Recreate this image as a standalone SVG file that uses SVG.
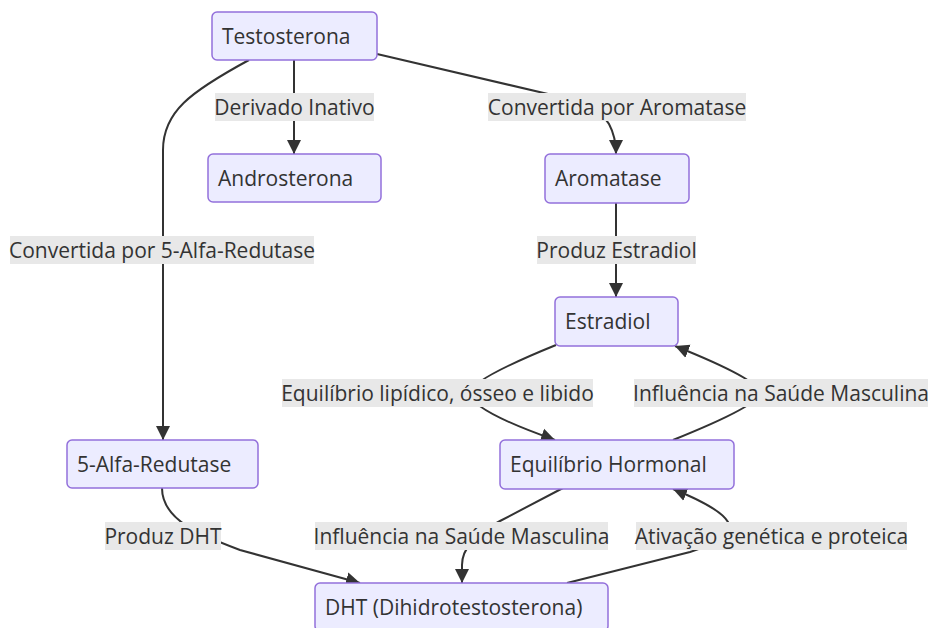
<svg xmlns="http://www.w3.org/2000/svg" width="932" height="628" viewBox="0 0 932 628">
<defs>
<style>
.node rect{fill:#ECECFF;stroke:#9370DB;stroke-width:1.5}
.node text{font-family:"Open Sans","Noto Sans",sans-serif;font-size:21px;fill:#333}
.edge{fill:none;stroke:#333;stroke-width:2}
.lbl rect{fill:#e8e8e8}
.lbl text{font-family:"Open Sans","Noto Sans",sans-serif;font-size:21px;fill:#333;text-anchor:middle}
</style>
<marker id="arr" markerUnits="userSpaceOnUse" markerWidth="15" markerHeight="15" refX="14" refY="7" orient="auto" viewBox="0 0 15 14">
<path d="M0,0 L14,7 L0,14 z" fill="#333"/>
</marker>
</defs>
<rect width="932" height="628" fill="#fff"/>
<g id="connectors">
<path class="edge" d="M294,60 L294,154" marker-end="url(#arr)"/>
<path class="edge" d="M377,54 L548,94 Q600,107 609,124 Q616,137 616,154" marker-end="url(#arr)"/>
<path class="edge" d="M249,60 C190,92 163,112 163,150 L163,440" marker-end="url(#arr)"/>
<path class="edge" d="M616,203 L616,297" marker-end="url(#arr)"/>
<path class="edge" d="M556,345 Q470,380 470,393 Q470,410 555,440" marker-end="url(#arr)"/>
<path class="edge" d="M673,440 Q760,405 760,393 Q760,380 675,346" marker-end="url(#arr)"/>
<path class="edge" d="M162,488 C162,520 200,535 240,550 L360,583" marker-end="url(#arr)"/>
<path class="edge" d="M563,488 L500,521 Q462,541 462,565 L462,583" marker-end="url(#arr)"/>
<path class="edge" d="M567,583 L690,552 Q735,538 728,522 Q720,508 673,489" marker-end="url(#arr)"/>
</g>
<g id="labels">
<g class="lbl"><rect x="215" y="93" width="159" height="28"/><text x="294.5" y="114.5">Derivado Inativo</text></g>
<g class="lbl"><rect x="488" y="93" width="258" height="28"/><text x="617" y="114.5">Convertida por Aromatase</text></g>
<g class="lbl"><rect x="10" y="236" width="304" height="28"/><text x="162" y="257.5">Convertida por 5-Alfa-Redutase</text></g>
<g class="lbl"><rect x="537" y="236" width="159" height="28"/><text x="616.5" y="257.5">Produz Estradiol</text></g>
<g class="lbl"><rect x="282" y="379" width="311" height="28"/><text x="437.5" y="400.5">Equilíbrio lipídico, ósseo e libido</text></g>
<g class="lbl"><rect x="634" y="379" width="294" height="28"/><text x="781" y="400.5">Influência na Saúde Masculina</text></g>
<g class="lbl"><rect x="105" y="522" width="116" height="28"/><text x="163" y="543.5">Produz DHT</text></g>
<g class="lbl"><rect x="315" y="522" width="293" height="28"/><text x="461.5" y="543.5">Influência na Saúde Masculina</text></g>
<g class="lbl"><rect x="636" y="522" width="271" height="28"/><text x="771.5" y="543.5">Ativação genética e proteica</text></g>
</g>
<g id="testosterona" class="node"><rect x="212" y="12" width="165" height="48" rx="5"/><text x="222" y="43.5">Testosterona</text></g>
<g id="androsterona" class="node"><rect x="208" y="154" width="173" height="48" rx="5"/><text x="218" y="186">Androsterona</text></g>
<g id="aromatase" class="node"><rect x="545" y="154" width="144" height="49" rx="5"/><text x="555" y="186">Aromatase</text></g>
<g id="estradiol" class="node"><rect x="555" y="297" width="123" height="49" rx="5"/><text x="565" y="329">Estradiol</text></g>
<g id="alfa-redutase" class="node"><rect x="67" y="440" width="191" height="48" rx="5"/><text x="77" y="472">5-Alfa-Redutase</text></g>
<g id="equilibrio" class="node"><rect x="500" y="440" width="234" height="49" rx="5"/><text x="510" y="472">Equilíbrio Hormonal</text></g>
<g id="dht" class="node"><rect x="315" y="583" width="293" height="48" rx="5"/><text x="325" y="615">DHT (Dihidrotestosterona)</text></g>
</svg>
